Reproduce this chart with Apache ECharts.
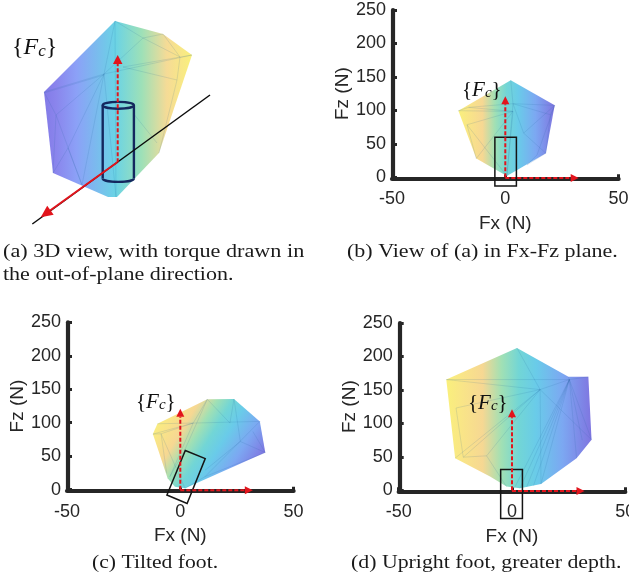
<!DOCTYPE html>
<html>
<head>
<meta charset="utf-8">
<style>
html, body { margin: 0; padding: 0; background: #fff; overflow: hidden; }
#main { width: 629px; height: 579px; }
</style>
<script src="https://cdn.jsdelivr.net/npm/echarts@6/dist/echarts.min.js"></script>
</head>
<body>
<div id="main"></div>
<script>
var xTicks = [-50, 0, 50];
var zTicks = [0, 50, 100, 150, 200, 250];

// panel a is a projected 3D view, no real axes, values are in view units
var hullA = [[115, 21], [163, 34], [192, 55], [159, 153], [117, 197], [108, 197], [53, 173], [44, 92]];
var meshA = [
    [104, 74, 44, 92], [104, 75, 44, 93], [104, 74, 115, 21], [104, 74, 192, 55], [104, 74, 56, 115],
    [104, 74, 68, 148], [104, 74, 82, 185], [104, 74, 116, 197], [104, 74, 143, 38], [115, 21, 143, 38],
    [143, 38, 163, 34], [143, 38, 180, 57], [56, 115, 82, 185], [44, 92, 56, 115], [56, 115, 53, 173],
    [68, 148, 53, 173], [68, 148, 82, 185], [192, 55, 123, 67], [123, 67, 177, 80], [157, 143, 133, 113],
    [159, 153, 177, 80], [115, 21, 116, 197], [163, 34, 180, 57], [180, 57, 177, 80]
];
var cylinderA = { top: [118.3, 105.3], bottom: [118.3, 178.5], rx: 15.6, ry: 3.4 };
var torqueLineA = [210, 95, 32.3, 224];
var forceArrowsA = [[117.7, 162.3, 117.7, 55]];
var torqueArrowA = [[117.3, 162.3, 40.7, 217.3]];

var hullB = [[2.4, 145], [21.8, 107.5], [17.9, 36], [0.7, 2], [-12.8, 28], [-20.7, 99.5]];
var meshB = [
    [2.4, 145, 3.4, 110], [3.4, 110, 21.8, 107.5], [3.4, 110, -16.2, 104.5], [-20.7, 99.5, -16.2, 104.5],
    [-16.2, 104.5, 3.4, 98.5], [-20.7, 99.5, 3.4, 98.5], [-16.9, 78.5, 3.4, 98.5], [-12.8, 28, -16.9, 78.5],
    [-12.8, 28, 3.4, 98.5], [3.4, 110, 0.7, 2], [3.4, 98.5, 0.7, 2], [3.4, 110, 8.1, 66], [8.1, 66, 17.9, 36],
    [21.8, 107.5, 14, 33.5], [21.8, 107.5, 19.9, 93.5], [19.9, 93.5, 17.9, 36], [14, 33.5, 9.6, 18.5],
    [3.4, 110, 19.9, 93.5], [8.1, 66, 21.8, 107.5], [9.6, 18.5, 17.9, 36], [-16.9, 78.5, 0.7, 2]
];
var footB = [[-4.6, 60], [4.9, 60], [4.9, -13], [-4.6, -13]];
var arrowsB = [[0, 0, 0, 121], [0, -1, 32.4, -1]];

var hullC = [[11.9, 135], [23.7, 135.5], [35.1, 102], [37.5, 55.5], [2.1, 2], [-2.4, 4.5], [-5.6, 17], [-12.1, 83], [-10.1, 98.5]];
var meshC = [
    [11.9, 135, 5.7, 99.5], [11.9, 135, 21.9, 99.5], [23.7, 135.5, 26.5, 72], [23.7, 135.5, 21.9, 99.5],
    [-10.1, 98.5, 5.7, 99.5], [5.7, 99.5, 35.1, 102], [-12.1, 83, 5.7, 99.5], [-8.5, 83.5, -6, 24.5],
    [5.7, 99.5, -4.6, 19.5], [35.1, 102, 10.9, 19.5], [26.5, 72, 37.5, 55.5], [26.5, 72, 10.9, 29],
    [32, 87, 37.5, 55.5], [11.9, 135, 2, 59.5], [2, 59.5, -4.6, 19.5], [-8.5, 83.5, 5.7, 99.5],
    [-12.1, 83, -8.5, 83.5], [-8.5, 83.5, 2.1, 2], [10.9, 19.5, 37.5, 55.5], [10.9, 19.5, 2.1, 2]
];
var footC = [[2.2, 58.5], [11, 46.5], [3, -20.5], [-5.9, -8]];
var arrowsC = [[0, 0, 0, 121], [0, -1, 32, -1]];

var hullD = [[2.2, 212.5], [24.9, 169.5], [33.7, 169.5], [35.1, 75.5], [28.5, 48], [12.8, 9.5], [3.5, 3], [-2.4, 5.5], [-9.7, 20.5], [-25.1, 48], [-29, 165.5]];
var meshD = [
    [-29, 165.5, 25.3, 165.5], [2.2, 212.5, 12.4, 150.5], [12.4, 150.5, 12.8, 9.5], [-29, 165.5, 12.4, 150.5],
    [-24.7, 123, 12.4, 150.5], [-24.7, 123, -21.5, 49.5], [-21.5, 49.5, 12.4, 150.5], [-11.2, 51.5, 12.4, 150.5],
    [-11.2, 51.5, -2.4, 5.5], [-11.2, 51.5, -21.5, 49.5], [-25.1, 48, 12.4, 150.5], [25.3, 165.5, 1, 3],
    [25.3, 165.5, 3.5, 3], [25.3, 165.5, 6.5, 5], [25.3, 165.5, 9.5, 7], [25.3, 165.5, 12.8, 9.5],
    [25.3, 165.5, 28.5, 48], [25.3, 165.5, 35.1, 75.5], [25.3, 165.5, 31, 75], [12.4, 150.5, 35.1, 75.5],
    [25.3, 165.5, 12.4, 150.5], [25.3, 165.5, 33.7, 169.5], [24.9, 169.5, 25.3, 165.5]
];
var footD = [[-5, 31], [4.6, 31], [4.6, -42], [-5, -42]];
var arrowsD = [[0, 0, 0, 121], [0, -1, 32, -1]];

var stopsA = [[0, '#7268e4'], [0.08, '#7a74ea'], [0.22, '#7c94f6'], [0.48, '#56cde2'], [0.66, '#90dcae'], [0.83, '#f4d688'], [1, '#f9ee6a']];
var stopsB = [[0, '#f9ee6a'], [0.12, '#f8e078'], [0.25, '#f5d284'], [0.38, '#94dcaa'], [0.5, '#5fd0d0'], [0.62, '#55c4e6'], [0.8, '#6a9cf0'], [1, '#6e62dc']];

var chart = echarts.init(document.getElementById('main'));

function gradient(stops, x0, y0, x1, y1) {
    var list = [];
    for (var i = 0; i < stops.length; i++) {
        list.push({ offset: stops[i][0], color: stops[i][1] });
    }
    return new echarts.graphic.LinearGradient(x0, y0, x1, y1, list);
}

function hullSeries(idx, hull, fill) {
    return {
        type: 'custom', xAxisIndex: idx, yAxisIndex: idx, z: 3, silent: true, clip: false,
        data: hull,
        encode: { x: 0, y: 1 },
        renderItem: function (params, api) {
            if (params.dataIndex !== 0) return null;
            var pts = [];
            for (var i = 0; i < hull.length; i++) pts.push(api.coord(hull[i]));
            return { type: 'polygon', shape: { points: pts }, style: { fill: fill, opacity: 0.88 } };
        }
    };
}

function meshSeries(idx, mesh) {
    return {
        type: 'custom', xAxisIndex: idx, yAxisIndex: idx, z: 4, silent: true, clip: false,
        data: mesh,
        encode: { x: [0, 2], y: [1, 3] },
        renderItem: function (params, api) {
            var a = api.coord([api.value(0), api.value(1)]);
            var b = api.coord([api.value(2), api.value(3)]);
            return {
                type: 'line',
                shape: { x1: a[0], y1: a[1], x2: b[0], y2: b[1] },
                style: { stroke: 'rgba(30,95,150,0.2)', lineWidth: 0.7, fill: null }
            };
        }
    };
}

function footSeries(idx, foot) {
    return {
        type: 'custom', xAxisIndex: idx, yAxisIndex: idx, z: 6, silent: true, clip: false,
        data: foot,
        encode: { x: 0, y: 1 },
        renderItem: function (params, api) {
            if (params.dataIndex !== 0) return null;
            var pts = [];
            for (var i = 0; i < foot.length; i++) pts.push(api.coord(foot[i]));
            return { type: 'polygon', shape: { points: pts }, style: { fill: 'none', stroke: '#151515', lineWidth: 1.5 } };
        }
    };
}

// red arrow, dashed or solid, with its head drawn in screen space
function arrowSeries(idx, rows, dashed, headLen, headWid) {
    return {
        type: 'custom', xAxisIndex: idx, yAxisIndex: idx, z: 8, silent: true, clip: false,
        data: rows,
        encode: { x: [0, 2], y: [1, 3] },
        renderItem: function (params, api) {
            var a = api.coord([api.value(0), api.value(1)]);
            var b = api.coord([api.value(2), api.value(3)]);
            var dx = b[0] - a[0], dy = b[1] - a[1];
            var len = Math.sqrt(dx * dx + dy * dy);
            dx /= len; dy /= len;
            var bx = b[0] - dx * headLen, by = b[1] - dy * headLen;
            return {
                type: 'group',
                children: [{
                    type: 'line',
                    shape: { x1: a[0], y1: a[1], x2: bx, y2: by },
                    style: { stroke: '#e2141c', lineWidth: 2, lineDash: dashed ? [4, 2] : null, fill: null }
                }, {
                    type: 'polygon',
                    shape: { points: [b, [bx - dy * headWid / 2, by + dx * headWid / 2], [bx + dy * headWid / 2, by - dx * headWid / 2]] },
                    style: { fill: '#e2141c' }
                }]
            };
        }
    };
}

function torqueLine(idx, row) {
    return {
        type: 'line', xAxisIndex: idx, yAxisIndex: idx, z: 7, silent: true, clip: false,
        symbol: 'none',
        data: [[row[0], row[1]], [row[2], row[3]]],
        lineStyle: { color: '#0c0c0c', width: 1.5 }
    };
}

function cylinderSeries(idx, cyl) {
    return {
        type: 'custom', xAxisIndex: idx, yAxisIndex: idx, z: 6, silent: true, clip: false,
        data: [cyl.top, cyl.bottom],
        encode: { x: 0, y: 1 },
        renderItem: function (params, api) {
            if (params.dataIndex !== 0) return null;
            var t = api.coord(cyl.top), b = api.coord(cyl.bottom);
            var stroke = { stroke: '#14285e', lineWidth: 2.4, fill: 'none' };
            var k = 0.5523;
            return {
                type: 'group',
                children: [
                    { type: 'ellipse', shape: { cx: t[0], cy: t[1], rx: cyl.rx, ry: cyl.ry }, style: stroke },
                    { type: 'line', shape: { x1: t[0] - cyl.rx, y1: t[1], x2: b[0] - cyl.rx, y2: b[1] }, style: stroke },
                    { type: 'line', shape: { x1: t[0] + cyl.rx, y1: t[1], x2: b[0] + cyl.rx, y2: b[1] }, style: stroke },
                    {
                        type: 'path',
                        shape: {
                            pathData: 'M' + (b[0] - cyl.rx) + ' ' + b[1] +
                                'C' + (b[0] - cyl.rx) + ' ' + (b[1] + cyl.ry * k) + ' ' + (b[0] - cyl.rx * k) + ' ' + (b[1] + cyl.ry) + ' ' + b[0] + ' ' + (b[1] + cyl.ry) +
                                'C' + (b[0] + cyl.rx * k) + ' ' + (b[1] + cyl.ry) + ' ' + (b[0] + cyl.rx) + ' ' + (b[1] + cyl.ry * k) + ' ' + (b[0] + cyl.rx) + ' ' + b[1],
                            layout: 'cover',
                            x: b[0] - cyl.rx, y: b[1], width: cyl.rx * 2, height: cyl.ry
                        },
                        style: stroke
                    }
                ]
            };
        }
    };
}

// grid 0 is panel a, the others are the force plots
// outerBoundsMode none: v6 otherwise pulls grid d in so its 50 label fits, the reference lets it clip
var grids = [
    { left: 0, top: 0, width: 320, height: 290, outerBoundsMode: 'none' },
    { left: 392, top: 10, width: 226.6, height: 167.3, outerBoundsMode: 'none' },
    { left: 67, top: 322.3, width: 226.6, height: 167.4, outerBoundsMode: 'none' },
    { left: 398.7, top: 323, width: 226.6, height: 167.3, outerBoundsMode: 'none' }
];
var xAxes = [{ type: 'value', gridIndex: 0, min: 0, max: 320, show: false }];
var yAxes = [{ type: 'value', gridIndex: 0, min: 0, max: 290, inverse: true, show: false }];
for (var g = 1; g < 4; g++) {
    xAxes.push({
        type: 'value', gridIndex: g, min: xTicks[0], max: xTicks[2], interval: 50,
        offset: 1,
        name: 'Fx (N)', nameLocation: 'middle', nameGap: 36,
        nameTextStyle: { fontFamily: 'Liberation Sans', fontSize: 19, color: '#262626' },
        splitLine: { show: false },
        axisLine: { onZero: false, lineStyle: { color: '#262626', width: 4.2 } },
        axisTick: { inside: true, length: 4, lineStyle: { color: '#262626', width: 3 } },
        axisLabel: { fontFamily: 'Liberation Sans', fontSize: 18, color: '#262626', margin: 12, showMaxLabel: true, showMinLabel: true }
    });
    yAxes.push({
        type: 'value', gridIndex: g, min: zTicks[0], max: zTicks[5], interval: 50,
        offset: -1,
        name: 'Fz (N)', nameLocation: 'middle', nameGap: 36,
        nameTextStyle: { fontFamily: 'Liberation Sans', fontSize: 19, color: '#262626' },
        splitLine: { show: false },
        axisLine: { onZero: false, lineStyle: { color: '#262626', width: 4.2 } },
        axisTick: { inside: true, length: 4, lineStyle: { color: '#262626', width: 3 } },
        axisLabel: { fontFamily: 'Liberation Sans', fontSize: 18, color: '#262626', margin: 7 }
    });
}

function caption(text, x, y, sx) {
    return {
        type: 'text', x: x, y: y, scaleX: sx, z: 20, silent: true,
        style: { text: text, font: '18.5px "Liberation Serif"', fill: '#1a1a1a', verticalAlign: 'middle' }
    };
}

function frameLabel(x, y, size) {
    var base = size + 'px "Liberation Serif"';
    return {
        type: 'text', x: x, y: y, z: 20, silent: true,
        style: {
            text: '{b|{}{f|F}{c|c}}',
            font: base,
            fill: '#111',
            verticalAlign: 'middle',
            rich: {
                b: { font: base, fill: '#111' },
                f: { font: 'italic ' + base, fill: '#111' },
                c: { font: 'italic ' + Math.round(size * 0.7) + 'px "Liberation Serif"', fill: '#111', verticalAlign: 'bottom', padding: [7, 0, 0, 0] }
            }
        }
    };
}

chart.setOption({
    animation: false,
    backgroundColor: '#fff',
    grid: grids,
    xAxis: xAxes,
    yAxis: yAxes,
    series: [
        hullSeries(0, hullA, gradient(stopsA, 0, 0, 1, 0)),
        meshSeries(0, meshA),
        cylinderSeries(0, cylinderA),
        torqueLine(0, torqueLineA),
        arrowSeries(0, forceArrowsA, true, 9, 9.5),
        arrowSeries(0, torqueArrowA, false, 12, 11),

        hullSeries(1, hullB, gradient(stopsB, 0, 0, 1, 0)),
        meshSeries(1, meshB),
        footSeries(1, footB),
        arrowSeries(1, arrowsB, true, 8, 8),

        hullSeries(2, hullC, gradient(stopsB, 0, 0.28, 0.84, 0.93)),
        meshSeries(2, meshC),
        footSeries(2, footC),
        arrowSeries(2, arrowsC, true, 8, 8),

        hullSeries(3, hullD, gradient(stopsB, 0, 0, 1, 0)),
        meshSeries(3, meshD),
        footSeries(3, footD),
        arrowSeries(3, arrowsD, true, 8, 8)
    ],
    graphic: [
        caption('(a) 3D view, with torque drawn in', 3, 252, 1.2),
        caption('the out-of-plane direction.', 3, 275, 1.19),
        caption('(b) View of (a) in Fx-Fz plane.', 347, 252, 1.19),
        caption('(c) Tilted foot.', 92, 563, 1.17),
        caption('(d) Upright foot, greater depth.', 351, 563, 1.18),
        frameLabel(12, 48, 24),
        frameLabel(462, 90, 21),
        frameLabel(136, 402, 21),
        frameLabel(468, 403, 21)
    ]
});
</script>
</body>
</html>
